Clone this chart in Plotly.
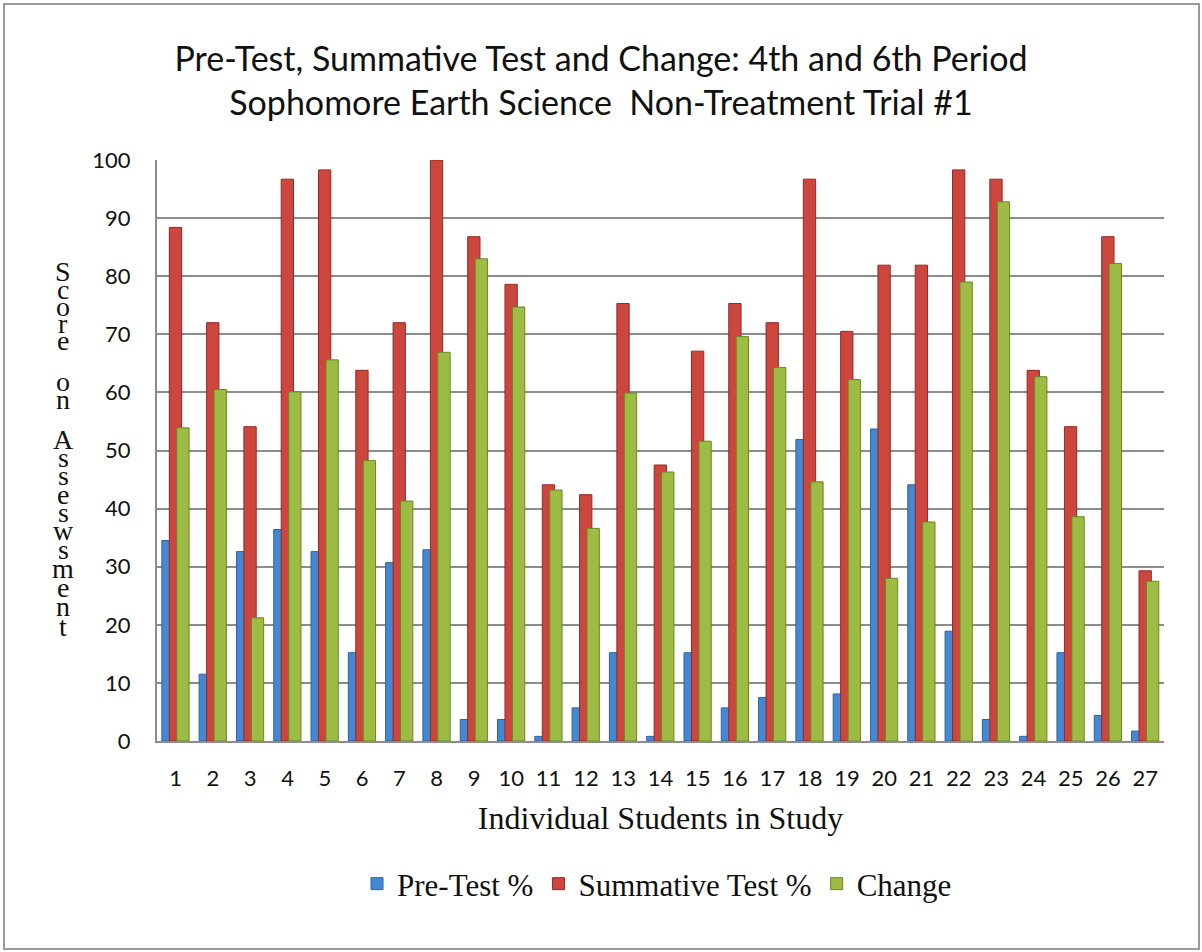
import plotly.graph_objects as go

students = [str(i) for i in range(1, 28)]
pre_test = [34.5, 11.5, 32.6, 36.4, 32.6, 15.2, 30.7, 32.9, 3.7, 3.7,
            0.8, 5.7, 15.2, 0.8, 15.2, 5.7, 7.5, 51.9, 8.1, 53.7,
            44.1, 18.9, 3.7, 0.8, 15.2, 4.4, 1.7]
summative = [88.4, 72.0, 54.1, 96.7, 98.3, 63.8, 72.0, 100.0, 86.8, 78.6,
             44.1, 42.4, 75.3, 47.5, 67.1, 75.3, 72.0, 96.7, 70.5, 81.9,
             81.9, 98.3, 96.7, 63.8, 54.1, 86.8, 29.3]
change = [53.9, 60.5, 21.2, 60.1, 65.6, 48.3, 41.3, 66.9, 83.0, 74.7,
          43.2, 36.6, 59.9, 46.3, 51.6, 69.6, 64.3, 44.6, 62.2, 28.0,
          37.7, 79.0, 92.8, 62.7, 38.6, 82.2, 27.5]
y_ticks = list(range(0, 101, 10))
y_title_letters = ["S", "c", "o", "r", "e", "o", "n", "A", "s", "s",
                   "e", "s", "w", "s", "m", "e", "n", "t"]
# vertical pixel position of each stacked letter of the y-axis title
y_title_pos = [271, 289, 306, 323, 340, 381, 399, 439, 457, 475,
               494, 512, 530, 549, 568, 587, 606, 626]

W, H = 1202, 952
L, R, T, B = 157, 38, 160, 211
plot_h = H - T - B
plot_w = W - L - R

xs = list(range(1, 28))
series = [
    ("Pre-Test %", pre_test, "#4588d2", "#2a64a4", -0.37),
    ("Summative Test %", summative, "#cc463d", "#932a23", -0.17),
    ("Change", change, "#9cbc44", "#6a8626", 0.03),
]

fig = go.Figure()
for name, vals, col, edge, off in series:
    fig.add_trace(go.Bar(
        x=xs, y=vals, name=name, width=0.33, offset=off,
        marker=dict(color=col, line=dict(color=edge, width=1)),
    ))

serif = "Liberation Serif"
sans = "Lato"

annotations = []
for ch, yp in zip(y_title_letters, y_title_pos):
    annotations.append(dict(
        text=ch, x=(63 - L) / plot_w, xref="paper",
        y=(H - B - yp) / plot_h, yref="paper",
        showarrow=False, xanchor="center", yanchor="middle",
        font=dict(family=serif, size=28, color="#111"),
    ))

shapes = [dict(
    type="rect", xref="paper", yref="paper",
    x0=(4 - L) / plot_w, x1=(1199 - L) / plot_w,
    y0=(H - B - 949) / plot_h, y1=(H - B - 4) / plot_h,
    line=dict(color="#9a9a9a", width=2), fillcolor="rgba(0,0,0,0)", layer="below",
)]

fig.update_layout(
    width=W, height=H,
    margin=dict(l=L, r=R, t=T, b=B),
    paper_bgcolor="white", plot_bgcolor="white",
    barmode="overlay",
    title=dict(
        text="Pre-Test, Summative Test and Change: 4th and 6th Period<br>Sophomore Earth Science  Non-Treatment Trial #1",
        x=0.5, xref="container", xanchor="center",
        y=1 - 71 / H, yref="container", yanchor="middle",
        font=dict(family=sans, size=34, color="#111"),
    ),
    xaxis=dict(
        range=[0.5, 27.5], tickmode="array", tickvals=xs, ticktext=students,
        showgrid=False, showline=True, linecolor="#8c8c8c", linewidth=2,
        ticks="", tickfont=dict(family=sans, size=22, color="#111"),
        ticklabelstandoff=17,
        title=dict(text="Individual Students in Study",
                   font=dict(family=serif, size=32, color="#111"), standoff=16),
    ),
    yaxis=dict(
        range=[0, 100], tickmode="array", tickvals=y_ticks,
        showgrid=True, gridcolor="#8c8c8c", gridwidth=2,
        showline=True, linecolor="#8c8c8c", linewidth=2,
        ticks="", tickfont=dict(family=sans, size=22, color="#111"),
        ticklabelstandoff=20, zeroline=False,
    ),
    legend=dict(
        orientation="h", x=(657 - L) / plot_w, xanchor="center",
        y=(H - B - 884) / plot_h, yanchor="middle",
        font=dict(family=serif, size=31, color="#111"),
        itemwidth=30, traceorder="normal",
    ),
    annotations=annotations,
    shapes=shapes,
)

fig.write_html("out.html", config={"displayModeBar": False},
               post_script="document.body.style.margin='0';")
